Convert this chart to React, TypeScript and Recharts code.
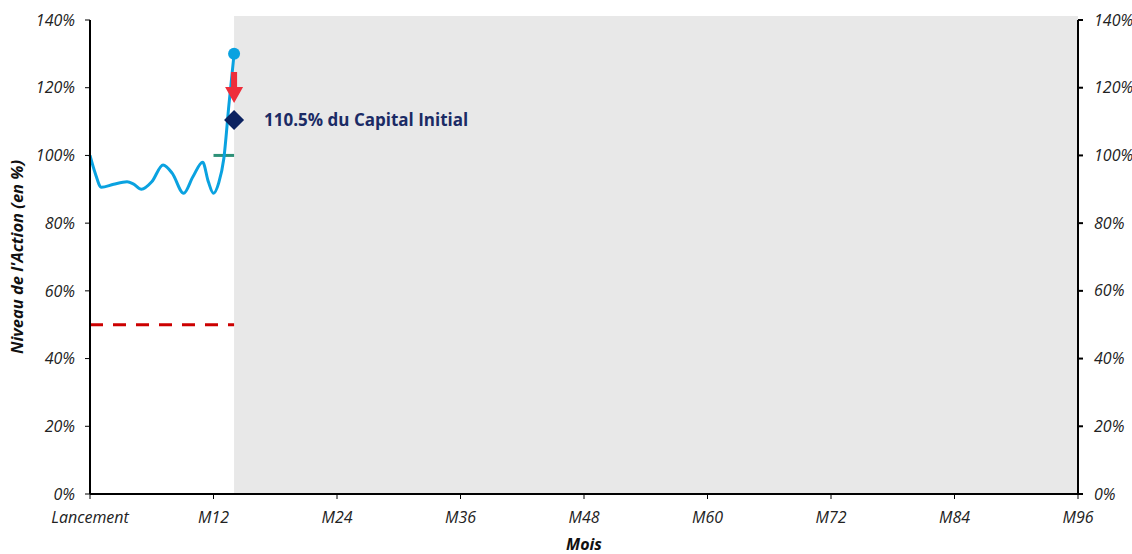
import React from "react";
import {
  ComposedChart,
  Line,
  XAxis,
  YAxis,
  ReferenceArea,
  Scatter,
} from "recharts";

if (typeof document !== "undefined") document.body.style.margin = "0";

// mois / niveau de l'action (%)
const pathMonths = [0, 0.5, 1.1, 2.3, 3.6, 4.2, 5, 6, 7.1, 8, 9.1, 10, 10.95, 11.5, 12, 12.5, 13, 13.5, 14];
const pathLevels = [100, 94.8, 90.6, 91.5, 92.2, 91.6, 90, 92.2, 97.2, 94.7, 88.8, 93.7, 98, 92.2, 88.8, 91.8, 99, 115, 130];

const barrierMonths = [0, 14];
const barrierLevels = [50, 50];

const callMonths = [12, 14];
const callLevels = [100, 100];

const xTicks = [0, 12, 24, 36, 48, 60, 72, 84, 96];
const yTicks = [0, 20, 40, 60, 80, 100, 120, 140];

const finalMonth = 14;
const arrowTip = 115.5;
const redemption = 110.5;
const redemptionText = "110.5% du Capital Initial";
const futureEnd = 96;

const pathData = pathMonths.map((m, i) => ({ m, v: pathLevels[i] }));
const barrierData = barrierMonths.map((m, i) => ({ m, v: barrierLevels[i] }));
const callData = callMonths.map((m, i) => ({ m, v: callLevels[i] }));

const FONT = "'Open Sans', sans-serif";
const NAVY = "#0B2260";
const BLUE = "#0AA2E0";

const xFmt = (v: number) => (v === 0 ? "Lancement" : `M${v}`);
const yFmt = (v: number) => `${v}%`;

const rightTick = (p: any) => (
  <g key={p.index}>
    <line x1={p.x - 15} x2={p.x - 10} y1={p.y} y2={p.y} stroke="#000" strokeWidth={2} />
    <text x={p.x + 1} y={p.y} dy={5.5} textAnchor="start" fontFamily={FONT} fontStyle="italic" fontSize={16} fill="#222">
      {yFmt(p.payload.value)}
    </text>
  </g>
);

const Arrow = (p: any) => {
  const { cx, cy } = p;
  return (
    <polygon
      points={`${cx - 3},${cy - 31} ${cx + 3},${cy - 31} ${cx + 3},${cy - 16} ${cx + 9},${cy - 16} ${cx},${cy} ${cx - 9},${cy - 16} ${cx - 3},${cy - 16}`}
      fill="#EE2E3B"
    />
  );
};

const Diamond = (p: any) => {
  const { cx, cy } = p;
  return (
    <g>
      <polygon points={`${cx},${cy - 10} ${cx + 10},${cy} ${cx},${cy + 10} ${cx - 10},${cy}`} fill={NAVY} />
      <text x={cx + 30} y={cy + 6} fontFamily={FONT} fontWeight={700} fontSize={17} fill="#1B2B65">
        {redemptionText}
      </text>
    </g>
  );
};

const EndDot = (p: any) => {
  const { cx, cy, index } = p;
  if (index !== pathData.length - 1) return <g key={index} />;
  return <circle key={index} cx={cx} cy={cy} r={6} fill={BLUE} />;
};

export default function App() {
  return (
    <ComposedChart width={1132} height={554} margin={{ top: 20, right: 0, bottom: 0, left: 0 }}>
      <ReferenceArea
        x1={finalMonth}
        x2={futureEnd}
        y1={0}
        y2={141.2}
        yAxisId="l"
        fill="#E8E8E8"
        fillOpacity={1}
        stroke="none"
        ifOverflow="visible"
      />
      <XAxis
        dataKey="m"
        type="number"
        domain={[0, 96]}
        ticks={xTicks}
        tickFormatter={xFmt}
        allowDuplicatedCategory={false}
        height={60}
        stroke="#000"
        axisLine={{ strokeWidth: 2 }}
        tickSize={5}
        tickMargin={13}
        tick={{ fill: "#222", fontSize: 16, fontStyle: "italic", fontFamily: FONT }}
        label={{ value: "Mois", position: "insideBottom", offset: 4, fill: "#111", fontSize: 16, fontWeight: 700, fontStyle: "italic", fontFamily: FONT }}
      />
      <YAxis
        yAxisId="l"
        type="number"
        domain={[0, 140]}
        ticks={yTicks}
        tickFormatter={yFmt}
        width={90}
        stroke="#000"
        axisLine={{ strokeWidth: 2 }}
        tickSize={5}
        tickMargin={10}
        tick={{ fill: "#222", fontSize: 16, fontStyle: "italic", fontFamily: FONT }}
        label={{ value: "Niveau de l'Action (en %)", angle: -90, position: "insideLeft", offset: 17, style: { textAnchor: "middle" }, fill: "#111", fontSize: 16.5, fontWeight: 700, fontStyle: "italic", fontFamily: FONT }}
      />
      <YAxis
        yAxisId="r"
        orientation="right"
        type="number"
        domain={[0, 140]}
        ticks={yTicks}
        width={54}
        stroke="#000"
        axisLine={{ strokeWidth: 2 }}
        tickLine={false}
        tickSize={5}
        tickMargin={10}
        tick={rightTick}
      />
      <Line
        yAxisId="r"
        data={barrierData}
        dataKey="v"
        stroke="#CC0000"
        strokeWidth={3}
        strokeDasharray="13 10"
        dot={false}
        isAnimationActive={false}
      />
      <Line
        yAxisId="l"
        data={callData}
        dataKey="v"
        stroke="#2E9178"
        strokeWidth={3}
        dot={false}
        isAnimationActive={false}
      />
      <Scatter
        yAxisId="l"
        data={[{ m: finalMonth, v: arrowTip }]}
        dataKey="v"
        shape={<Arrow />}
        isAnimationActive={false}
      />
      <Line
        yAxisId="l"
        data={pathData}
        dataKey="v"
        type="monotone"
        stroke={BLUE}
        strokeWidth={3}
        dot={<EndDot />}
        isAnimationActive={false}
      />
      <Scatter
        yAxisId="l"
        data={[{ m: finalMonth, v: redemption }]}
        dataKey="v"
        shape={<Diamond />}
        isAnimationActive={false}
      />
    </ComposedChart>
  );
}
